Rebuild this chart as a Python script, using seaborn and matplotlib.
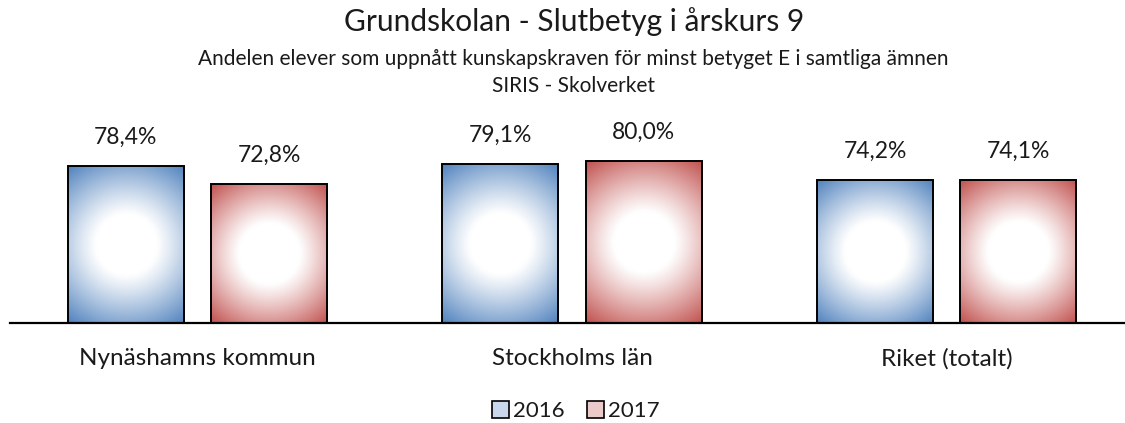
import numpy as np
import pandas as pd
import matplotlib
matplotlib.use('Agg')
import matplotlib.pyplot as plt
import matplotlib.colors as mcolors
import seaborn as sns
from matplotlib.patches import Patch

categories = ['Nynäshamns kommun', 'Stockholms län', 'Riket (totalt)']
years = ['2016', '2017']
values_2016 = [78.4, 79.1, 74.2]
values_2017 = [72.8, 80.0, 74.1]
edge_colors = {'2016': '#4F81BD', '2017': '#C0504D'}
legend_fill = {'2016': '#c9d7ec', '2017': '#eccac9'}

df = pd.DataFrame({
    'Område': categories * 2,
    'År': [years[0]] * 3 + [years[1]] * 3,
    'Andel': values_2016 + values_2017,
})

sns.set_theme(style='white')
plt.rcParams['font.family'] = ['Lato', 'DejaVu Sans']

fig = plt.figure(figsize=(11.25, 4.23), dpi=100)
ax = fig.add_axes([0.00907, 0.2371, 0.99884, 0.4586])

sns.barplot(data=df, x='Område', y='Andel', hue='År', palette=edge_colors,
            width=0.765, gap=0.19, edgecolor='black', linewidth=1.4,
            legend=False, ax=ax)
ax.set_ylim(30, 90)
ax.set_xlim(-0.5, 2.5)

# radial gradient fill (white centre -> colour at the corners)
fig.canvas.draw()
ymin = ax.get_ylim()[0]
for container, year in zip(ax.containers, years):
    rgb = np.array(mcolors.to_rgb(edge_colors[year]))
    for bar in container:
        x0, w = bar.get_x(), bar.get_width()
        yb, yt = max(bar.get_y(), ymin), bar.get_y() + bar.get_height()
        p0 = ax.transData.transform((x0, yb))
        p1 = ax.transData.transform((x0 + w, yt))
        wp, hp = p1 - p0
        xs = (np.linspace(0, 1, 240) - 0.5) * wp
        ys = (np.linspace(0, 1, 240) - 0.5) * hp
        X, Y = np.meshgrid(xs, ys)
        r = np.hypot(X, Y)
        rmax = np.hypot(wp / 2, hp / 2)
        r0 = 30
        t = np.clip((r - r0) / (rmax - r0), 0, 1)
        t = t ** 1.1
        img = (1 - t)[..., None] * 1.0 + t[..., None] * rgb
        im = ax.imshow(img, extent=(x0, x0 + w, yb, yt), origin='lower',
                       aspect='auto', interpolation='bilinear',
                       zorder=bar.get_zorder() + 0.1)
        im.set_clip_path(bar)
        bar.set_facecolor('none')
        bar.set_zorder(bar.get_zorder() + 0.2)
    ax.bar_label(container,
                 labels=[f'{v:.1f}%'.replace('.', ',') for v in container.datavalues],
                 padding=13, fontsize=16.5, color='#1a1a1a')

ax.set_xlim(-0.5, 2.5)
ax.set_ylim(30, 90)
ax.set_xlabel('')
ax.set_ylabel('')
ax.set_yticks([])
ax.tick_params(axis='x', length=0, pad=18, labelsize=17.5, labelcolor='#1a1a1a')
for side in ['left', 'right', 'top']:
    ax.spines[side].set_visible(False)
ax.spines['bottom'].set_color('black')
ax.spines['bottom'].set_linewidth(1.6)
ax.patch.set_alpha(0)

cx = 0.510
fig.text(cx, 0.950, 'Grundskolan - Slutbetyg i årskurs 9', ha='center', va='center',
         fontsize=21.5, color='#1a1a1a')
fig.text(cx, 0.860, 'Andelen elever som uppnått kunskapskraven för minst betyget E i samtliga ämnen',
         ha='center', va='center', fontsize=15, color='#1a1a1a')
fig.text(cx, 0.797, 'SIRIS - Skolverket', ha='center', va='center',
         fontsize=15, color='#1a1a1a')

handles = [Patch(facecolor=legend_fill[y], edgecolor='black',
                 linewidth=1.2, label=y) for y in years]
fig.legend(handles=handles, loc='center', bbox_to_anchor=(0.512, 0.028), ncol=2,
           frameon=False, fontsize=16, handlelength=0.75, handleheight=0.75,
           handletextpad=0.2, columnspacing=1.0, labelcolor='#1a1a1a')

fig.savefig('out.png', dpi=100)
